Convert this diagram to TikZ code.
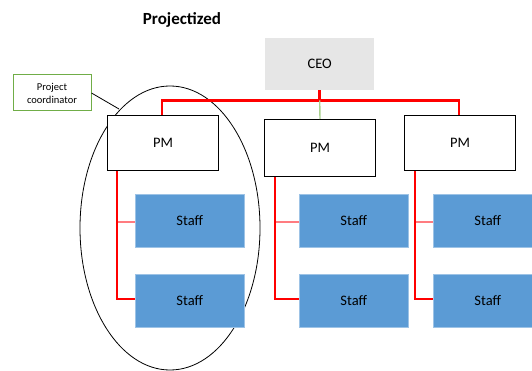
\documentclass[tikz,border=0pt]{standalone}
\usepackage{fontspec}
\setmainfont{Carlito}
\usetikzlibrary{positioning}
\definecolor{ceogray}{HTML}{E6E6E6}
\definecolor{staffblue}{HTML}{5B9BD5}
\definecolor{staffedge}{HTML}{9DC3E6}
\definecolor{linkred}{HTML}{FF0000}
\definecolor{linkpink}{HTML}{FF7C80}
\definecolor{linkgreen}{HTML}{A9D18E}
\definecolor{notegreen}{HTML}{70AD47}
\tikzset{
  box/.style={anchor=north west, minimum width=111pt, minimum height=55pt,
              inner sep=0pt, font=\fontsize{14.5}{17}\selectfont, fill=#1},
  box/.default=white,
  pmbox/.style={box, draw=black, line width=1pt},
  staffbox/.style={box=staffblue, draw=staffedge, line width=0.6pt,
                   minimum width=109pt, minimum height=53pt},
  main/.style={draw=linkred, line width=2.6pt},
  side/.style={draw=linkpink, line width=1.6pt}}

\begin{document}
\begin{tikzpicture}[x=1pt, y=-1pt]
  \clip (0,0) rectangle (532,371);
  \node[font=\bfseries\fontsize{17}{20}\selectfont] (title) at (182,20) {Projectized};
  % the project seen as one group
  \draw[line width=0.8pt] (170,228) ellipse [x radius=90pt, y radius=142pt];
  \node[box=ceogray, minimum width=109pt, minimum height=52pt] (ceo) at (265,38) {CEO};
  \node[pmbox] (pm1) at (107,115) {PM};
  \node[pmbox, minimum height=57pt] (pm2) at (264,119) {PM};
  \node[pmbox] (pm3) at (404,115) {PM};
  \foreach \i/\x in {1/135, 2/299, 3/433} {
    \node[staffbox] (s\i a) at (\x,194) {Staff};
    \node[staffbox] (s\i b) at (\x,274) {Staff};
  }
  % links from the CEO
  \draw[main] (ceo.south) -- ++(0,10) coordinate (mid);
  \draw[main, line join=miter] (pm1.north -| 162,0) |- (mid) -| (pm3.north -| 459,0);
  \draw[draw=linkgreen, line width=1.4pt] (mid) -- (pm2.north);
  % links to the staff
  \foreach \i/\x in {1/117, 2/275, 3/415} {
    \draw[side] (\x,222) -- (s\i a.west |- 0,222);
    \draw[main, line join=miter] (pm\i.south -| \x,0) |- (s\i b.west |- 0,299);
  }
  % note on the left
  \node[draw=notegreen, line width=1pt, minimum width=78pt, minimum height=36pt,
        inner sep=0pt, align=center, font=\fontsize{10.5}{13}\selectfont]
        (coord) at (52,93) {Project\\coordinator};
  \coordinate (touch) at (119,109);
  \draw[line width=0.8pt] (coord.east) -- (touch);
\end{tikzpicture}
\end{document}
